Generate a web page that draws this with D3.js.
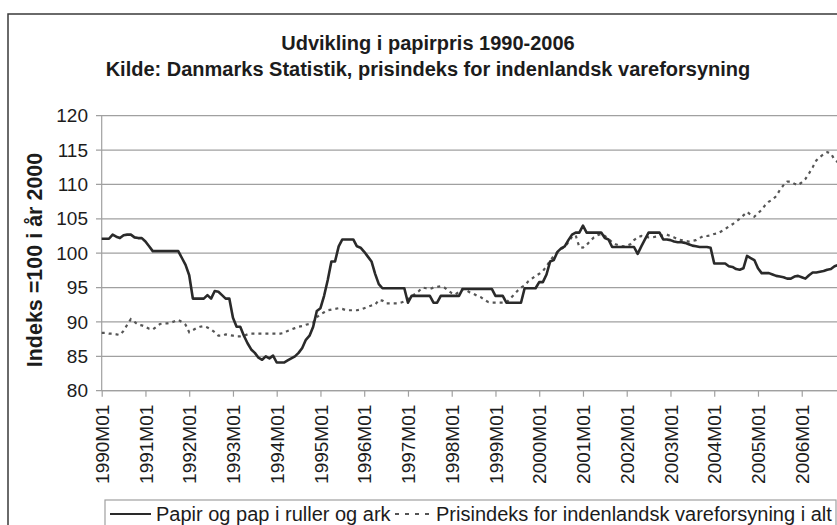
<!DOCTYPE html>
<html>
<head>
<meta charset="utf-8">
<script src="https://cdn.jsdelivr.net/npm/d3@7/dist/d3.min.js"></script>
<style>
  body { margin: 0; background: #fff; }
  text { font-family: "Liberation Sans", Arial, sans-serif; fill: #1c1c1c; }
</style>
</head>
<body>
<div id="chart-area"></div>
<script>
// data: monthly index values, 1990M01 .. 2006M11 (index 100 = year 2000)
var titleLines = ["Udvikling i papirpris 1990-2006",
                  "Kilde: Danmarks Statistik, prisindeks for indenlandsk vareforsyning"];
var yTitle = "Indeks =100 i år 2000";
var seriesNames = ["Papir og pap i ruller og ark", "Prisindeks for indenlandsk vareforsyning i alt"];

var tickLabels = ["1990M01","1991M01","1992M01","1993M01","1994M01","1995M01","1996M01","1997M01",
                  "1998M01","1999M01","2000M01","2001M01","2002M01","2003M01","2004M01","2005M01","2006M01"];
var yTicks = [80, 85, 90, 95, 100, 105, 110, 115, 120];

var papir = [
  102.1,102.1,102.1,102.7,102.4,102.2,102.6,102.7,102.7,102.3,102.2,102.2,  // 1990
  101.7,101.0,100.3,100.3,100.3,100.3,100.3,100.3,100.3,100.3,99.3,98.3,     // 1991
  96.8,93.4,93.4,93.4,93.4,93.9,93.4,94.5,94.4,93.9,93.4,93.4,                // 1992
  90.6,89.3,89.3,88.0,86.9,86.0,85.5,84.8,84.5,85.0,84.7,85.1,                // 1993
  84.1,84.1,84.1,84.4,84.7,85.0,85.5,86.2,87.4,88.0,89.3,91.6,                // 1994
  92.0,93.8,96.1,98.8,98.8,101.0,102.0,102.0,102.0,102.0,101.0,100.8,         // 1995
  100.2,99.5,98.8,97.0,95.5,94.9,94.9,94.9,94.9,94.9,94.9,94.9,               // 1996
  92.8,93.8,93.8,93.8,93.8,93.8,93.8,92.8,92.8,93.8,93.8,93.8,                // 1997
  93.8,93.8,93.8,94.8,94.8,94.8,94.8,94.8,94.8,94.8,94.8,94.8,                // 1998
  93.8,93.8,93.8,92.8,92.8,92.8,92.8,92.8,94.9,94.9,94.9,94.9,                // 1999
  95.8,95.8,96.9,98.8,99.0,100.2,100.7,101.0,101.9,102.7,103.0,103.0,         // 2000
  104.0,103.0,103.0,103.0,103.0,103.0,102.2,102.0,100.9,100.9,100.9,100.9,    // 2001
  100.9,100.9,100.9,99.9,101.0,102.0,103.0,103.0,103.0,103.0,102.0,102.0,     // 2002
  101.9,101.7,101.6,101.6,101.5,101.3,101.1,101.0,100.9,100.9,100.9,100.8,    // 2003
  98.5,98.5,98.5,98.5,98.1,98.0,97.7,97.6,97.8,99.6,99.3,99.0,                // 2004
  97.8,97.1,97.1,97.1,96.9,96.7,96.6,96.5,96.3,96.3,96.6,96.7,                // 2005
  96.5,96.3,96.8,97.2,97.2,97.3,97.4,97.6,97.7,98.1,98.3                      // 2006
];

var prisindeks = [
  88.4,88.4,88.3,88.3,88.2,88.1,88.7,89.6,90.4,90.0,89.6,89.5,                // 1990
  89.3,89.0,88.9,89.3,89.7,89.8,89.8,89.9,90.1,90.3,90.0,89.6,                // 1991
  88.5,88.8,89.1,89.3,89.4,89.2,88.9,88.5,88.0,88.0,88.2,88.1,                // 1992
  88.0,87.9,87.9,88.0,88.2,88.3,88.3,88.3,88.3,88.3,88.3,88.3,                // 1993
  88.3,88.3,88.4,88.7,88.9,89.1,89.3,89.4,89.6,89.7,89.9,90.7,                // 1994
  91.1,91.4,91.7,91.8,91.9,92.0,91.9,91.7,91.7,91.7,91.7,91.8,                // 1995
  92.0,92.2,92.4,92.5,93.2,93.1,92.7,92.7,92.7,92.7,92.8,93.0,                // 1996
  93.3,93.7,94.1,94.5,95.0,94.9,94.8,95.0,95.1,95.2,95.0,94.6,                // 1997
  94.2,94.0,94.4,94.8,94.6,94.3,94.1,93.8,93.6,93.2,92.9,92.8,                // 1998
  92.8,92.8,92.8,92.8,93.4,93.9,94.5,95.0,95.3,95.9,96.3,96.7,                // 1999
  97.0,97.4,98.1,98.9,99.6,100.1,100.6,100.9,101.6,102.4,102.6,100.9,         // 2000
  100.8,101.2,101.8,102.3,102.6,102.8,102.5,102.1,101.6,101.3,101.1,101.0,    // 2001
  101.1,101.3,101.9,102.3,102.5,102.4,102.3,102.3,102.4,102.5,102.6,102.7,    // 2002
  102.5,102.3,102.0,101.9,101.8,101.7,101.8,101.9,102.2,102.5,102.5,102.6,    // 2003
  102.8,102.9,103.2,103.5,103.9,104.2,104.6,105.0,105.5,106.0,105.6,105.3,    // 2004
  105.8,106.3,107.0,107.5,107.8,108.3,109.2,109.9,110.4,110.4,110.1,109.9,    // 2005
  110.3,110.8,111.6,112.5,113.5,114.0,114.4,114.7,114.5,113.6,113.2           // 2006
];

var width = 837, height = 525;

var svg = d3.select("#chart-area")
  .append("svg")
    .attr("width", width)
    .attr("height", height);

// chart frame (scanned page, right/bottom edges cut off)
svg.append("rect")
  .attr("x", 8).attr("y", 14)
  .attr("width", 900).attr("height", 600)
  .attr("fill", "#fff")
  .attr("stroke", "#3a3a3a")
  .attr("stroke-width", 1.5);

// titles
svg.selectAll(".title")
  .data(titleLines)
  .enter().append("text")
    .attr("class", "title")
    .attr("x", 428)
    .attr("y", function(d, i){ return 50 + i * 26; })
    .attr("text-anchor", "middle")
    .attr("font-size", "20px")
    .attr("font-weight", "bold")
    .text(function(d){ return d; });

// scales
var x = d3.scaleLinear()
  .domain([0, 202])
  .range([101.7, 101.7 + 202 * 3.646]);

var y = d3.scaleLinear()
  .domain([80, 120])
  .range([390.7, 115.7]);

// gridlines
svg.append("g")
  .selectAll("line")
  .data(yTicks)
  .enter().append("line")
    .attr("x1", 96)
    .attr("x2", width)
    .attr("y1", function(d){ return y(d); })
    .attr("y2", function(d){ return y(d); })
    .attr("stroke", "#a0a0a0")
    .attr("stroke-width", 1.2);

// y axis
var yAxisCall = d3.axisLeft(y)
  .tickValues(yTicks)
  .tickSize(0)
  .tickPadding(12);
var yAxis = svg.append("g")
  .attr("transform", "translate(" + 100 + ",0)")
  .call(yAxisCall);
yAxis.select(".domain").remove();
yAxis.selectAll("text")
  .attr("font-size", "19px")
  .attr("fill", "#1c1c1c");

svg.append("line")
  .attr("x1", x(0)).attr("x2", x(0))
  .attr("y1", y(120)).attr("y2", y(80))
  .attr("stroke", "#a0a0a0")
  .attr("stroke-width", 1.2);

// x axis
var xAxisCall = d3.axisBottom(x)
  .tickValues(d3.range(tickLabels.length).map(function(i){ return i * 12; }))
  .tickFormat(function(d){ return tickLabels[d / 12]; })
  .tickSize(6)
  .tickSizeOuter(0);
var xAxis = svg.append("g")
  .attr("transform", "translate(0," + y(80) + ")")
  .call(xAxisCall);
xAxis.select(".domain").attr("stroke", "#a0a0a0").attr("stroke-width", 1.2)
  .attr("d", "M" + x(0) + ",0H" + width);
xAxis.selectAll(".tick line").attr("stroke", "#a0a0a0").attr("stroke-width", 1.2);
xAxis.selectAll(".tick text")
  .attr("font-size", "19px")
  .attr("fill", "#1c1c1c")
  .attr("text-anchor", "end")
  .attr("transform", "rotate(-90)")
  .attr("x", -14)
  .attr("y", 0)
  .attr("dy", "0.35em");

// y axis title
svg.append("text")
  .attr("transform", "translate(42," + 260 + ") rotate(-90)")
  .attr("text-anchor", "middle")
  .attr("font-size", "21.5px")
  .attr("font-weight", "bold")
  .text(yTitle);

// lines
var line = d3.line()
  .x(function(d, i){ return x(i); })
  .y(function(d){ return y(d); });

svg.append("path")
  .datum(prisindeks)
  .attr("fill", "none")
  .attr("stroke", "#555")
  .attr("stroke-width", 2.2)
  .attr("stroke-dasharray", "3,4")
  .attr("d", line);

svg.append("path")
  .datum(papir)
  .attr("fill", "none")
  .attr("stroke", "#2a2a2a")
  .attr("stroke-width", 2.6)
  .attr("stroke-linejoin", "round")
  .attr("d", line);

// legend
var legend = svg.append("g");
legend.append("rect")
  .attr("x", 105).attr("y", 500)
  .attr("width", 731).attr("height", 60)
  .attr("fill", "#fff")
  .attr("stroke", "#a0a0a0")
  .attr("stroke-width", 1.2);

legend.append("line")
  .attr("x1", 110).attr("x2", 151)
  .attr("y1", 514).attr("y2", 514)
  .attr("stroke", "#2a2a2a")
  .attr("stroke-width", 2.2);
legend.append("text")
  .attr("x", 156).attr("y", 521)
  .attr("font-size", "20px")
  .text(seriesNames[0]);

legend.append("line")
  .attr("x1", 395).attr("x2", 429)
  .attr("y1", 514).attr("y2", 514)
  .attr("stroke", "#555")
  .attr("stroke-width", 2)
  .attr("stroke-dasharray", "4,6");
legend.append("text")
  .attr("x", 436).attr("y", 521)
  .attr("font-size", "20px")
  .text(seriesNames[1]);
</script>
</body>
</html>
